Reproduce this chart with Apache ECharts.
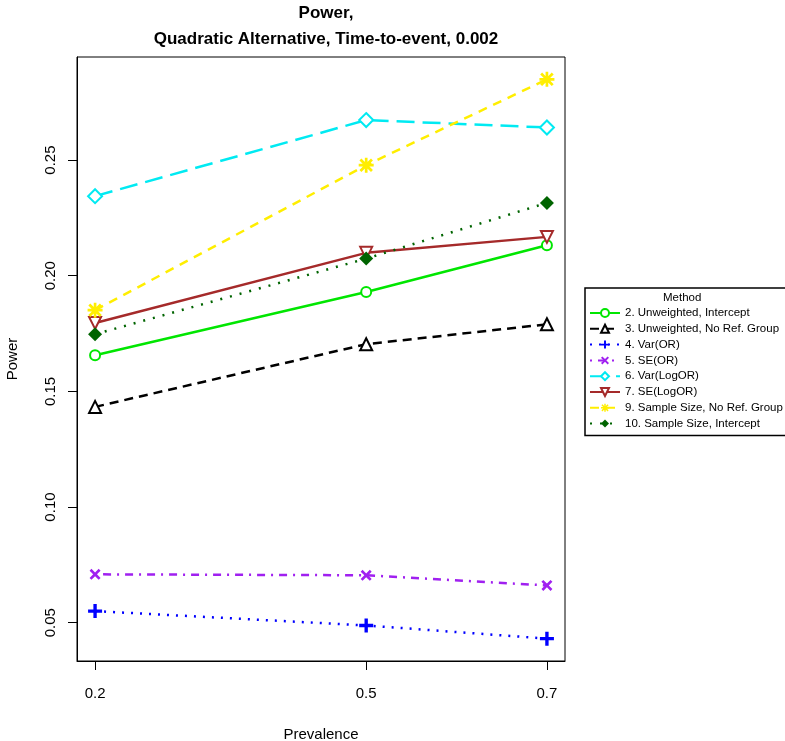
<!DOCTYPE html>
<html>
<head>
<meta charset="utf-8">
<script src="https://cdn.jsdelivr.net/npm/echarts@6/dist/echarts.min.js"></script>
<style>html,body{margin:0;padding:0;background:#fff}#c{width:785px;height:741px}</style>
</head>
<body>
<div id="c"></div>
<script>
const prevalence = [0.2, 0.5, 0.7];
const xTicks = [0.2, 0.5, 0.7];
const yTicks = [0.05, 0.10, 0.15, 0.20, 0.25];
const unweightedIntercept = [0.1656, 0.193, 0.2132];
const unweightedNoRef = [0.1433, 0.1704, 0.179];
const varOR = [0.055, 0.0488, 0.0431];
const seOR = [0.0709, 0.0705, 0.0661];
const varLogOR = [0.2344, 0.2673, 0.2641];
const seLogOR = [0.1796, 0.2099, 0.2168];
const sampleSizeNoRef = [0.1851, 0.2478, 0.2849];
const sampleSizeIntercept = [0.1747, 0.2074, 0.2315];
const seriesNames = ['2. Unweighted, Intercept','3. Unweighted, No Ref. Group','4. Var(OR)','5. SE(OR)','6. Var(LogOR)','7. SE(LogOR)','9. Sample Size, No Ref. Group','10. Sample Size, Intercept'];

const plusPath = 'path://M3.8,0h2.4v10h-2.4z M0,3.8h10v2.4h-10z';
const crossPath = 'path://M1.7,0L5,3.3L8.3,0L10,1.7L6.7,5L10,8.3L8.3,10L5,6.7L1.7,10L0,8.3L3.3,5L0,1.7z';
const starPath = 'path://M4.1,0h1.8v10h-1.8z M0,4.1h10v1.8h-10z M1.8,0.5L5,3.7L8.2,0.5L9.5,1.8L6.3,5L9.5,8.2L8.2,9.5L5,6.3L1.8,9.5L0.5,8.2L3.7,5L0.5,1.8z';

function pairs(vals){ return prevalence.map((p,i)=>[p, vals[i]]); }

function mk(name, vals, color, type, symbol, size, bw, extra){
  return Object.assign({
    name: name, type: 'line', data: pairs(vals),
    symbol: symbol, symbolSize: size, showAllSymbol: true,
    lineStyle: {color: color, width: 2.5, type: type},
    itemStyle: {color: color, borderColor: color, borderWidth: bw},
    emphasis: {disabled: true}, animation: false, z: 3
  }, extra || {});
}

const series = [
  mk(seriesNames[0], unweightedIntercept, '#00E600', 'solid', 'emptyCircle', 10, 2.2),
  mk(seriesNames[1], unweightedNoRef, '#000000', [9,6], 'emptyTriangle', 12, 2.2),
  mk(seriesNames[2], varOR, '#0000FF', [2,7], plusPath, 14, 0),
  mk(seriesNames[3], seOR, '#A020F0', [2,6,8,6], crossPath, 11, 0),
  mk(seriesNames[4], varLogOR, '#00EAF2', [18,8], 'emptyDiamond', 14, 2.2),
  mk(seriesNames[5], seLogOR, '#A52A2A', 'solid', 'emptyTriangle', 12, 2.2, {symbolRotate: 180}),
  mk(seriesNames[6], sampleSizeNoRef, '#FFEE00', [9,7], starPath, 15, 0),
  mk(seriesNames[7], sampleSizeIntercept, '#006400', [2,8], 'diamond', 14, 0)
];

const chart = echarts.init(document.getElementById('c'), null, {renderer: 'canvas'});
chart.setOption({
  animation: false,
  backgroundColor: '#fff',
  textStyle: {fontFamily: 'Liberation Sans, Arial, sans-serif'},
  title: {
    text: 'Power,\nQuadratic Alternative, Time-to-event, 0.002',
    left: 321, top: -5, textAlign: 'center',
    textStyle: {fontSize: 17, fontWeight: 'bold', color: '#000', lineHeight: 26, fontFamily: 'Liberation Sans, Arial, sans-serif'}
  },
  grid: {left: 77, right: 220, top: 57, bottom: 80, show: true, borderColor: '#000', borderWidth: 1, containLabel: false, outerBoundsMode: 'none'},
  xAxis: {
    type: 'value', min: 0.18, max: 0.72,
    name: 'Prevalence', nameLocation: 'middle', nameGap: 66,
    nameTextStyle: {fontSize: 15, color: '#000'},
    axisLine: {show: true, onZero: false, lineStyle: {color: '#000', width: 1}},
    axisTick: {show: true, length: 9, customValues: xTicks, lineStyle: {color: '#000'}},
    axisLabel: {customValues: xTicks, fontSize: 15, color: '#000', margin: 25, formatter: v => v.toFixed(1)},
    splitLine: {show: false}
  },
  yAxis: {
    type: 'value', min: 0.03343, max: 0.29457,
    name: 'Power', nameLocation: 'middle', nameGap: 57,
    nameTextStyle: {fontSize: 15, color: '#000'},
    axisLine: {show: true, onZero: false, lineStyle: {color: '#000', width: 1}},
    axisTick: {show: true, length: 9, customValues: yTicks, lineStyle: {color: '#000'}},
    axisLabel: {customValues: yTicks, fontSize: 15, color: '#000', rotate: 90, margin: 19, formatter: v => v.toFixed(2)},
    splitLine: {show: false}
  },
  legend: {
    orient: 'vertical', left: 585, top: 288,
    data: seriesNames,
    padding: [19, 8, 6, 4], itemGap: 3.8, itemWidth: 30, itemHeight: 10,
    borderColor: '#000', borderWidth: 1.5,
    textStyle: {fontSize: 11.5, color: '#000', fontFamily: 'Liberation Sans, Arial, sans-serif'},
    selectedMode: false
  },
  graphic: [{
    type: 'text', left: 663, top: 292,
    style: {text: 'Method', fontSize: 11.5, fill: '#000', fontFamily: 'Liberation Sans, Arial, sans-serif'}
  }],
  series: series
});
</script>
</body>
</html>
